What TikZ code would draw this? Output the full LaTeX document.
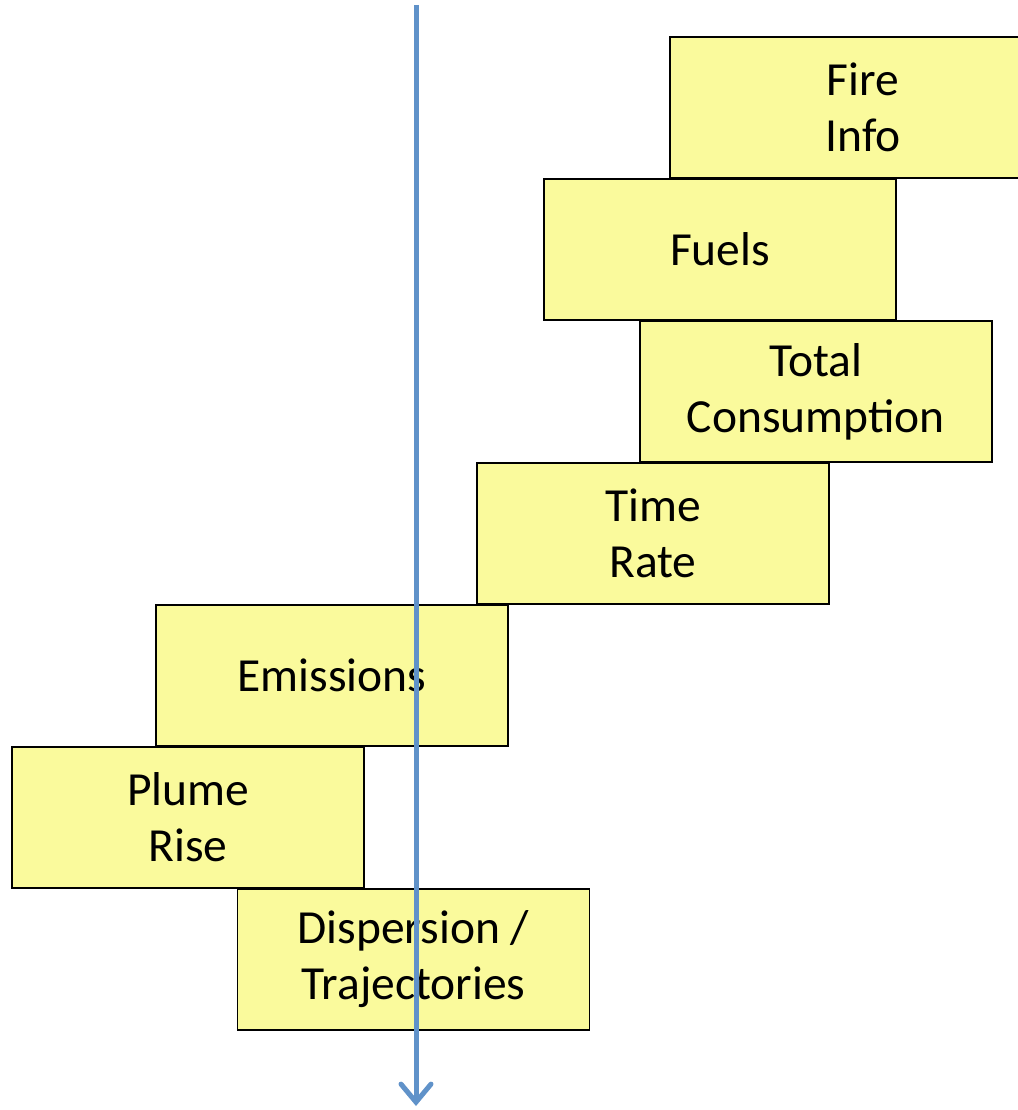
\documentclass[tikz,border=0pt]{standalone}
\usepackage{fontspec}
\setmainfont{Carlito}
\usetikzlibrary{positioning,arrows.meta}
\definecolor{stepyellow}{RGB}{250,250,156}
\definecolor{flowblue}{RGB}{96,146,201}

\begin{document}
\begin{tikzpicture}[x=1pt,y=-1pt,
	stepbox/.style={draw=black,line width=1.3pt,fill=stepyellow,minimum width=352pt,minimum height=141pt,inner sep=0pt,align=center,font=\fontsize{47.5}{56}\selectfont}]
		\useasboundingbox (0,0) rectangle (1017,1110);
		\node[stepbox,minimum width=386pt] (fireinfo) at (863,107.5) {Fire\\Info};
		\node[stepbox] (fuels) at (720,249.5) {Fuels};
		\node[stepbox] (consumption) at (816,391.5) {Total\\Consumption};
		\node[stepbox] (timerate) at (653,533.5) {Time\\Rate};
		\node[stepbox] (emissions) at (332,675.5) {Emissions};
		\node[stepbox] (plumerise) at (188,817.5) {Plume\\Rise};
		\node[stepbox] (dispersion) at (413.5,959.5) {Dispersion /\\Trajectories};
		\coordinate (start) at (416,5);
		\coordinate (finish) at (416,1106);
		\draw[flowblue,line width=5pt,-{Straight Barb[length=18pt,width=30pt,line cap=round]}] (start) -- (finish);
	\end{tikzpicture}
\end{document}
